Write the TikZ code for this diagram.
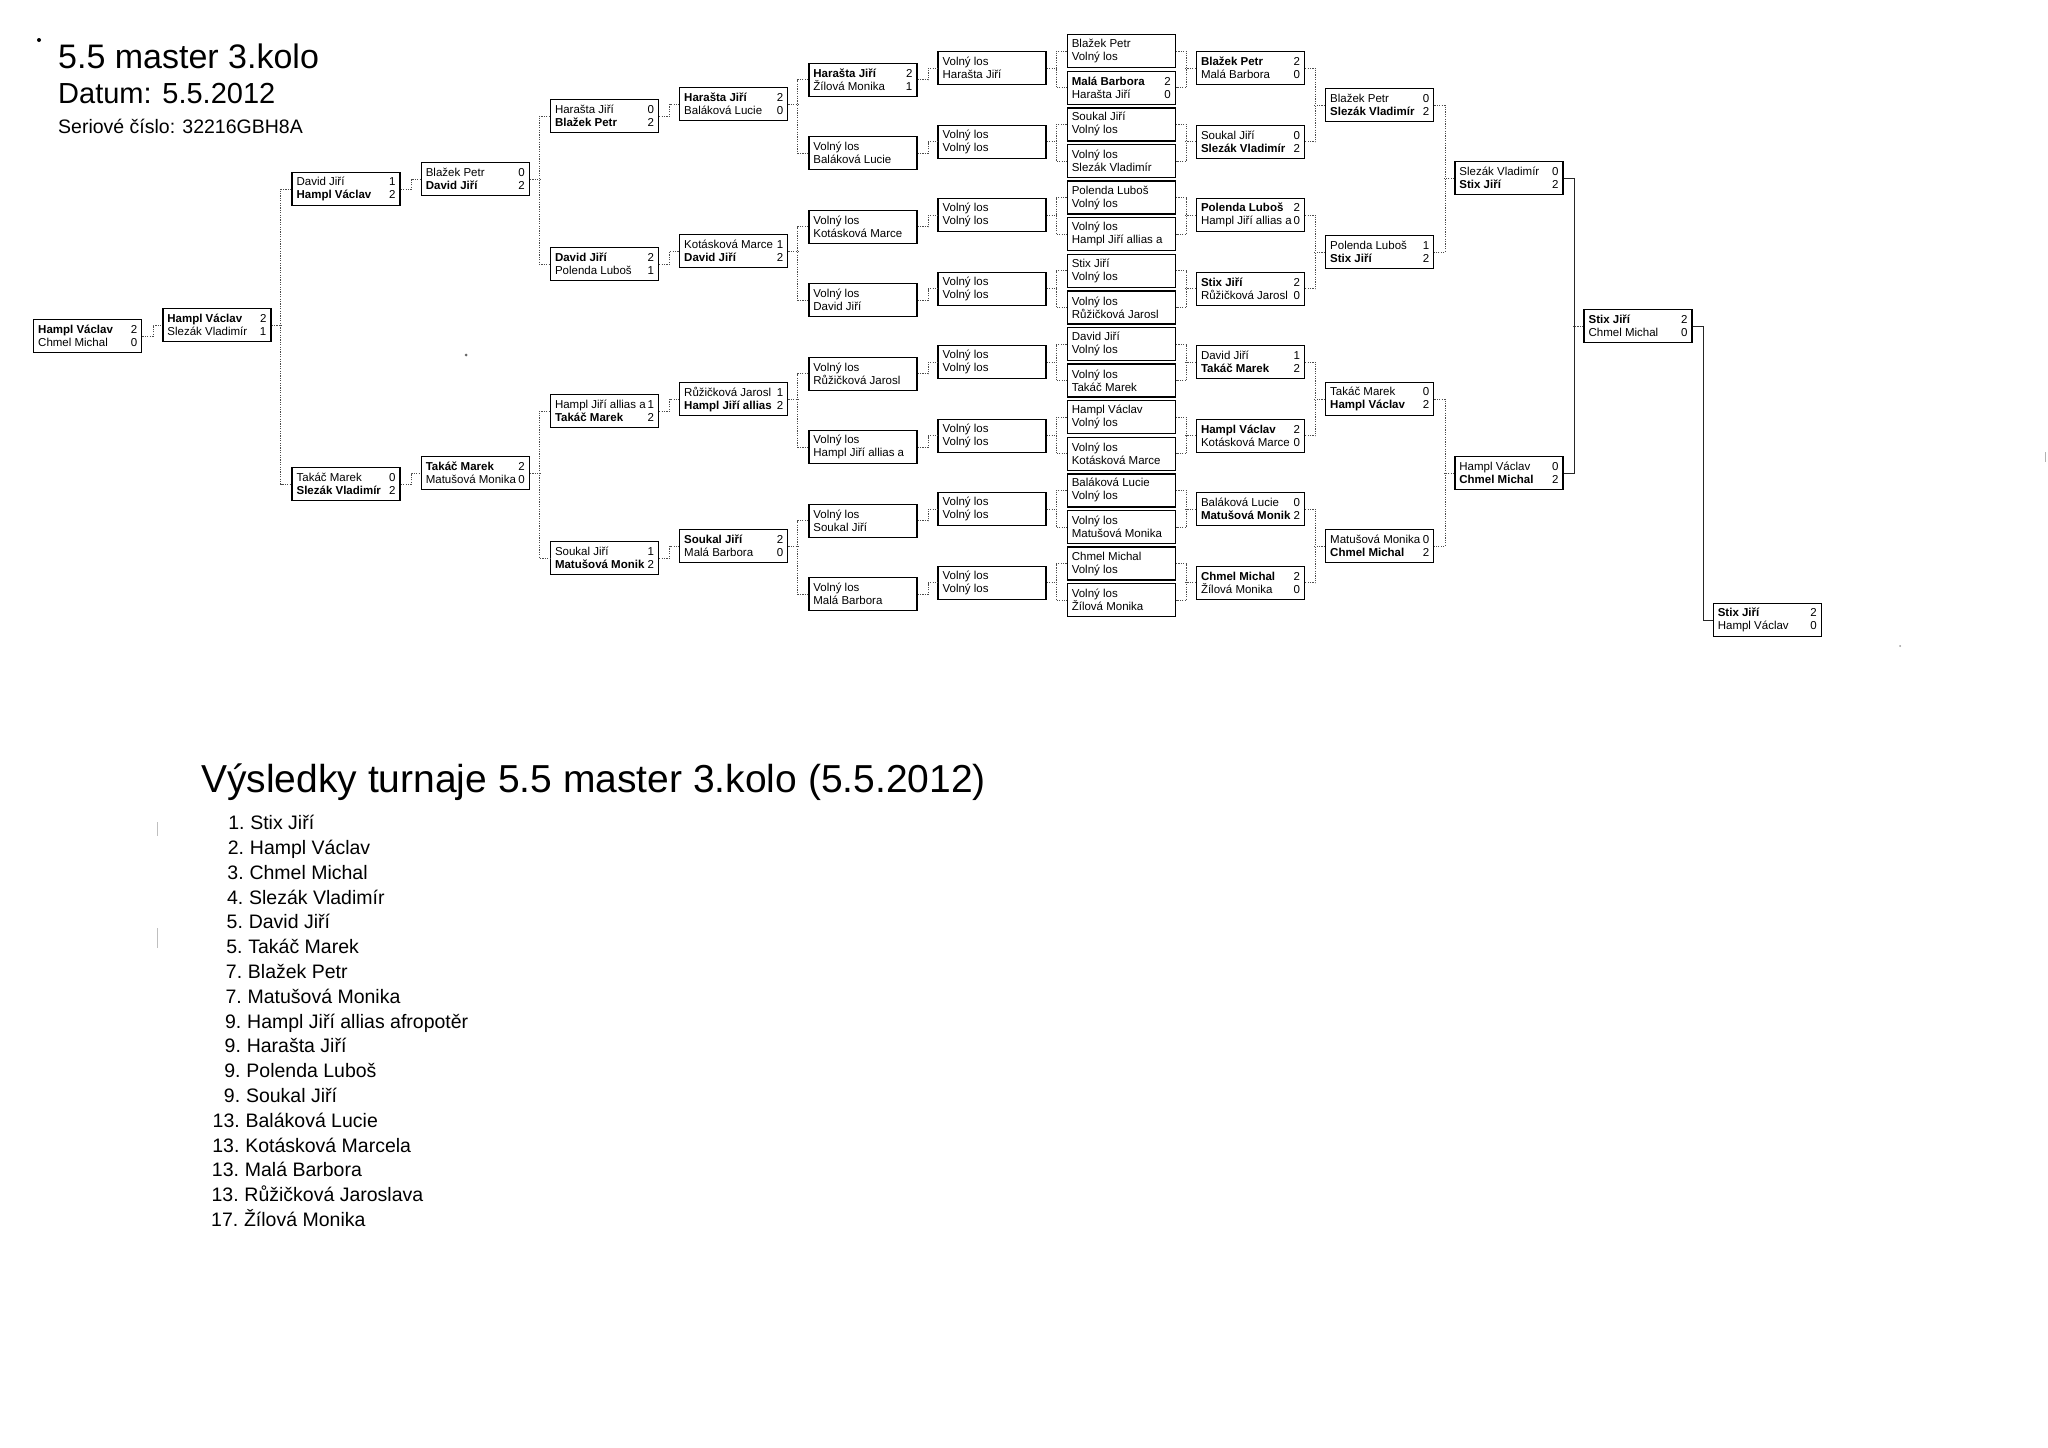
\documentclass[tikz,border=0pt]{standalone}
\usepackage{fontspec}
\setmainfont{Liberation Sans}
\newcommand{\bxn}[2]{\makebox[99pt][l]{\rlap{#1}\hfill#2}}
\newcommand{\bxw}[2]{\makebox[99pt][l]{\rlap{\textbf{#1}}\hfill#2}}
\newcommand{\vl}{\bxn{Volný los}{}}
\tikzset{
  box/.style={draw=black, line width=1.4pt, minimum width=108pt, minimum height=33pt,
    inner sep=0pt, anchor=north west, align=left, font=\fontsize{11.5}{13}\selectfont},
  conn/.style={draw=black!70, line width=0.8pt, dash pattern=on 1.2pt off 1.2pt},
  connsolid/.style={draw=black!85, line width=0.8pt},
  txt/.style={anchor=base west, inner sep=0pt},
}
\begin{document}
\begin{tikzpicture}[x=1pt,y=-1pt]
\useasboundingbox (0,0) rectangle (2048,1448);
\fill[white] (0,0) rectangle (2048,1448);

% ---------- title ----------
\node[txt, font=\fontsize{34}{40}\selectfont] (title) at (58,68) {5.5 master 3.kolo};
\node[txt, font=\fontsize{29}{34}\selectfont] (datum) at (58,103) {Datum: 5.5.2012};
\node[txt, font=\fontsize{19.5}{23}\selectfont] (serial) at (58,133) {Seriové číslo: 32216GBH8A};
\fill[black] (39,40) circle [radius=2pt];

% ---------- left half ----------
\node[box] (c0) at (33,319) {\bxw{Hampl Václav}{2}\\\bxn{Chmel Michal}{0}};
\node[box] (c1) at (162.2,308) {\bxw{Hampl Václav}{2}\\\bxn{Slezák Vladimír}{1}};
\node[box] (c2-0) at (291.4,172) {\bxn{David Jiří}{1}\\\bxw{Hampl Václav}{2}};
\node[box] (c2-1) at (291.4,467) {\bxn{Takáč Marek}{0}\\\bxw{Slezák Vladimír}{2}};
\node[box] (c3-0) at (420.6,162) {\bxn{Blažek Petr}{0}\\\bxw{David Jiří}{2}};
\node[box] (c3-1) at (420.6,456) {\bxw{Takáč Marek}{2}\\\bxn{Matušová Monika}{0}};
\node[box] (c4-0) at (549.8,99) {\bxn{Harašta Jiří}{0}\\\bxw{Blažek Petr}{2}};
\node[box] (c4-1) at (549.8,247) {\bxw{David Jiří}{2}\\\bxn{Polenda Luboš}{1}};
\node[box] (c4-2) at (549.8,394) {\bxn{Hampl Jiří allias a}{1}\\\bxw{Takáč Marek}{2}};
\node[box] (c4-3) at (549.8,541) {\bxn{Soukal Jiří}{1}\\\bxw{Matušová Monik}{2}};
\node[box] (c5-0) at (679,87) {\bxw{Harašta Jiří}{2}\\\bxn{Baláková Lucie}{0}};
\node[box] (c5-1) at (679,234) {\bxn{Kotásková Marce}{1}\\\bxw{David Jiří}{2}};
\node[box] (c5-2) at (679,382) {\bxn{Růžičková Jarosl}{1}\\\bxw{Hampl Jiří allias}{2}};
\node[box] (c5-3) at (679,529) {\bxw{Soukal Jiří}{2}\\\bxn{Malá Barbora}{0}};

\node[box] (c6-0) at (808.2,62.5) {\bxw{Harašta Jiří}{2}\\\bxn{Žílová Monika}{1}};
\node[box] (c6-1) at (808.2,136) {\vl\\\bxn{Baláková Lucie}{}};
\node[box] (c6-2) at (808.2,209.5) {\vl\\\bxn{Kotásková Marce}{}};
\node[box] (c6-3) at (808.2,283) {\vl\\\bxn{David Jiří}{}};
\node[box] (c6-4) at (808.2,356.5) {\vl\\\bxn{Růžičková Jarosl}{}};
\node[box] (c6-5) at (808.2,430) {\vl\\\bxn{Hampl Jiří allias a}{}};
\node[box] (c6-6) at (808.2,503.5) {\vl\\\bxn{Soukal Jiří}{}};
\node[box] (c6-7) at (808.2,577) {\vl\\\bxn{Malá Barbora}{}};

\node[box] (c7-0) at (937.4,51) {\vl\\\bxn{Harašta Jiří}{}};
\foreach \j in {1,...,7} {
  \node[box] (c7-\j) at (937.4,{51+73.5*\j}) {\vl\\\vl};
}

% ---------- centre column ----------
\node[box] (c8-0)  at (1066.6,34)    {\bxn{Blažek Petr}{}\\\vl};
\node[box] (c8-1)  at (1066.6,70.6)  {\bxw{Malá Barbora}{2}\\\bxn{Harašta Jiří}{0}};
\node[box] (c8-2)  at (1066.6,107.2) {\bxn{Soukal Jiří}{}\\\vl};
\node[box] (c8-3)  at (1066.6,143.8) {\vl\\\bxn{Slezák Vladimír}{}};
\node[box] (c8-4)  at (1066.6,180.4) {\bxn{Polenda Luboš}{}\\\vl};
\node[box] (c8-5)  at (1066.6,217)   {\vl\\\bxn{Hampl Jiří allias a}{}};
\node[box] (c8-6)  at (1066.6,253.6) {\bxn{Stix Jiří}{}\\\vl};
\node[box] (c8-7)  at (1066.6,290.2) {\vl\\\bxn{Růžičková Jarosl}{}};
\node[box] (c8-8)  at (1066.6,326.8) {\bxn{David Jiří}{}\\\vl};
\node[box] (c8-9)  at (1066.6,363.4) {\vl\\\bxn{Takáč Marek}{}};
\node[box] (c8-10) at (1066.6,400)   {\bxn{Hampl Václav}{}\\\vl};
\node[box] (c8-11) at (1066.6,436.6) {\vl\\\bxn{Kotásková Marce}{}};
\node[box] (c8-12) at (1066.6,473.2) {\bxn{Baláková Lucie}{}\\\vl};
\node[box] (c8-13) at (1066.6,509.8) {\vl\\\bxn{Matušová Monika}{}};
\node[box] (c8-14) at (1066.6,546.4) {\bxn{Chmel Michal}{}\\\vl};
\node[box] (c8-15) at (1066.6,583)   {\vl\\\bxn{Žílová Monika}{}};

% ---------- right half ----------
\node[box] (c9-0) at (1195.8,51)    {\bxw{Blažek Petr}{2}\\\bxn{Malá Barbora}{0}};
\node[box] (c9-1) at (1195.8,124.5) {\bxn{Soukal Jiří}{0}\\\bxw{Slezák Vladimír}{2}};
\node[box] (c9-2) at (1195.8,198)   {\bxw{Polenda Luboš}{2}\\\bxn{Hampl Jiří allias a}{0}};
\node[box] (c9-3) at (1195.8,271.5) {\bxw{Stix Jiří}{2}\\\bxn{Růžičková Jarosl}{0}};
\node[box] (c9-4) at (1195.8,345)   {\bxn{David Jiří}{1}\\\bxw{Takáč Marek}{2}};
\node[box] (c9-5) at (1195.8,418.5) {\bxw{Hampl Václav}{2}\\\bxn{Kotásková Marce}{0}};
\node[box] (c9-6) at (1195.8,492)   {\bxn{Baláková Lucie}{0}\\\bxw{Matušová Monik}{2}};
\node[box] (c9-7) at (1195.8,565.5) {\bxw{Chmel Michal}{2}\\\bxn{Žílová Monika}{0}};

\node[box] (c10-0) at (1325,88)  {\bxn{Blažek Petr}{0}\\\bxw{Slezák Vladimír}{2}};
\node[box] (c10-1) at (1325,235) {\bxn{Polenda Luboš}{1}\\\bxw{Stix Jiří}{2}};
\node[box] (c10-2) at (1325,382) {\bxn{Takáč Marek}{0}\\\bxw{Hampl Václav}{2}};
\node[box] (c10-3) at (1325,529) {\bxn{Matušová Monika}{0}\\\bxw{Chmel Michal}{2}};

\node[box] (c11-0) at (1454.2,161) {\bxn{Slezák Vladimír}{0}\\\bxw{Stix Jiří}{2}};
\node[box] (c11-1) at (1454.2,456) {\bxn{Hampl Václav}{0}\\\bxw{Chmel Michal}{2}};

\node[box] (c12) at (1583.4,309) {\bxw{Stix Jiří}{2}\\\bxn{Chmel Michal}{0}};
\node[box] (c13) at (1712.6,603) {\bxw{Stix Jiří}{2}\\\bxn{Hampl Václav}{0}};

% ---------- connectors, left half ----------
\draw[conn] (c0.east) -- ++(10.6,0) |- (c1.west);
\draw[conn] (c2-0.west) -- ++(-10.6,0) |- (c2-1.west);
\draw[conn] (c1.east) -- ++(10.6,0);
\foreach \i in {0,1} {
  \draw[conn] (c2-\i.east) -- ++(10.6,0) |- (c3-\i.west);
  \pgfmathtruncatemacro{\a}{2*\i}\pgfmathtruncatemacro{\b}{2*\i+1}
  \draw[conn] (c4-\a.west) -- ++(-10.6,0) |- (c4-\b.west);
  \draw[conn] (c3-\i.east) -- ++(10.6,0);
}
\foreach \i in {0,...,3} {
  \draw[conn] (c4-\i.east) -- ++(10.6,0) |- (c5-\i.west);
  \pgfmathtruncatemacro{\a}{2*\i}\pgfmathtruncatemacro{\b}{2*\i+1}
  \draw[conn] (c6-\a.west) -- ++(-10.6,0) |- (c6-\b.west);
  \draw[conn] (c5-\i.east) -- ++(10.6,0);
}
\foreach \j in {0,...,7} {
  \draw[conn] (c6-\j.east) -- ++(10.6,0) |- (c7-\j.west);
  \pgfmathtruncatemacro{\a}{2*\j}\pgfmathtruncatemacro{\b}{2*\j+1}
  \draw[conn] (c8-\a.west) -- ++(-10.6,0) |- (c8-\b.west);
  \draw[conn] (c7-\j.east) -- ++(10.6,0);
  % right side of the centre column
  \draw[conn] (c8-\a.east) -- ++(10.6,0) |- (c8-\b.east);
  \draw[conn] (c9-\j.west) -- ++(-10.6,0);
}
% ---------- connectors, right half ----------
\foreach \i in {0,...,3} {
  \pgfmathtruncatemacro{\a}{2*\i}\pgfmathtruncatemacro{\b}{2*\i+1}
  \draw[conn] (c9-\a.east) -- ++(10.6,0) |- (c9-\b.east);
  \draw[conn] (c10-\i.west) -- ++(-10.6,0);
}
\foreach \i in {0,1} {
  \pgfmathtruncatemacro{\a}{2*\i}\pgfmathtruncatemacro{\b}{2*\i+1}
  \draw[conn] (c10-\a.east) -- ++(10.6,0) |- (c10-\b.east);
  \draw[conn] (c11-\i.west) -- ++(-10.6,0);
}
\draw[connsolid] (c11-0.east) -- ++(10.6,0) |- (c11-1.east);
\draw[conn] (c12.west) -- ++(-10.6,0);
\draw[connsolid] (c12.east) -- ++(10.6,0) |- (c13.west);

% small scan marks
\fill[black!60] (466,355) circle [radius=1.5pt];
\fill[black!40] (1900,646) circle [radius=1pt];
\draw[black!30, line width=0.8pt] (2045,452) -- (2045,462);
\draw[black!25, line width=0.8pt] (157,822) -- (157,836);
\draw[black!25, line width=0.8pt] (157,928) -- (157,948);

% ---------- results ----------
\begin{scope}[rotate around={-0.9:(200,792)}]
\node[txt, font=\fontsize{39}{46}\selectfont] (head) at (201,792)
  {Výsledky turnaje 5.5 master 3.kolo (5.5.2012)};
\foreach \n/\t [count=\i from 0] in {1/Stix Jiří, 2/Hampl Václav, 3/Chmel Michal,
  4/Slezák Vladimír, 5/David Jiří, 5/Takáč Marek, 7/Blažek Petr, 7/Matušová Monika,
  9/Hampl Jiří allias afropotěr, 9/Harašta Jiří, 9/Polenda Luboš, 9/Soukal Jiří,
  13/Baláková Lucie, 13/Kotásková Marcela, 13/Malá Barbora, 13/Růžičková Jaroslava,
  17/Žílová Monika} {
  \node[anchor=base east, inner sep=0pt, font=\fontsize{19.5}{23}\selectfont]
    (num\i) at (245.3,{829+24.8*\i}) {\n.};
  \node[txt, font=\fontsize{19.5}{23}\selectfont] (name\i) at (250.7,{829+24.8*\i}) {\t};
}
\end{scope}
\end{tikzpicture}
\end{document}
